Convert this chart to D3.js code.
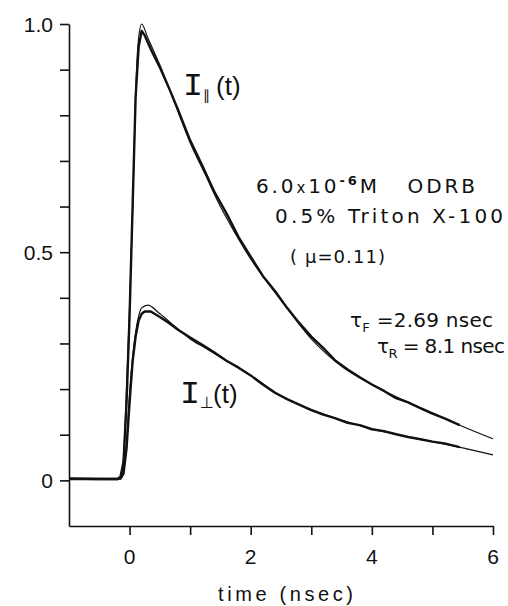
<!DOCTYPE html>
<html>
<head>
<meta charset="utf-8">
<script src="https://cdn.jsdelivr.net/npm/d3@7"></script>
<style>
  body { margin: 0; background: #fff; }
  svg { display: block; }
  text { fill: #111; white-space: pre; }
</style>
</head>
<body>
<div class="graph"></div>
<script>
// values
let yTicks = [0, 0.1, 0.2, 0.3, 0.4, 0.5, 0.6, 0.7, 0.8, 0.9, 1.0];
let yLabels = { 0: "0", 0.5: "0.5", 1: "1.0" };
let xTicks = [0, 1, 2, 3, 4, 5, 6];
let xLabels = { 0: "0", 2: "2", 4: "4", 6: "6" };

// measured traces (thick)
let dataTime = [-1, -0.5, -0.2, -0.15, -0.1, -0.05, 0, 0.05, 0.1, 0.15, 0.2, 0.25, 0.35, 0.5, 0.65, 0.8, 1.0, 1.2, 1.4, 1.6, 1.8, 2.0, 2.2, 2.4, 2.6, 2.8, 3.0, 3.2, 3.4, 3.6, 3.8, 4.0, 4.2, 4.4, 4.6, 4.8, 5.0, 5.2, 5.45];
let parData = [0.004, 0.003, 0.003, 0.008, 0.04, 0.17, 0.36, 0.6, 0.84, 0.95, 0.985, 0.975, 0.945, 0.905, 0.86, 0.812, 0.745, 0.69, 0.632, 0.585, 0.533, 0.49, 0.448, 0.415, 0.378, 0.345, 0.315, 0.29, 0.262, 0.243, 0.226, 0.21, 0.196, 0.18, 0.171, 0.158, 0.146, 0.136, 0.121];
let perData = [0.003, 0.003, 0.003, 0.004, 0.015, 0.07, 0.17, 0.26, 0.315, 0.35, 0.365, 0.37, 0.37, 0.358, 0.345, 0.33, 0.313, 0.297, 0.28, 0.262, 0.247, 0.23, 0.21, 0.192, 0.178, 0.166, 0.154, 0.144, 0.136, 0.126, 0.121, 0.112, 0.108, 0.101, 0.095, 0.09, 0.085, 0.081, 0.073];

// fitted curves (thin)
let fitTime = [-1, -0.2, -0.15, -0.1, -0.05, 0, 0.05, 0.1, 0.15, 0.2, 0.3, 0.5, 0.75, 1, 1.25, 1.5, 1.75, 2, 2.5, 3, 3.5, 4, 4.5, 5, 5.5, 6];
let parFit = [0.003, 0.003, 0.006, 0.05, 0.2, 0.38, 0.59, 0.85, 0.97, 1.0, 0.97, 0.91, 0.825, 0.74, 0.67, 0.6, 0.54, 0.485, 0.395, 0.31, 0.25, 0.21, 0.177, 0.148, 0.118, 0.091];
let perFit = [0.003, 0.003, 0.004, 0.02, 0.08, 0.19, 0.27, 0.325, 0.36, 0.378, 0.384, 0.365, 0.337, 0.31, 0.29, 0.27, 0.25, 0.23, 0.185, 0.155, 0.132, 0.113, 0.098, 0.085, 0.071, 0.056];

let w = 508;
let h = 606;

let svg = d3
  .select(".graph")
  .append("svg")
  .attr("width", w)
  .attr("height", h);

let xScale = d3.scaleLinear().domain([-1, 6]).range([69, 493]);
let yScale = d3.scaleLinear().domain([-0.1, 1.0]).range([526, 24]);

let font = "'DejaVu Sans', 'Liberation Sans', sans-serif";

// axes
let yAxis = d3
  .axisLeft(yScale)
  .tickValues(yTicks)
  .tickSize(9)
  .tickSizeOuter(0)
  .tickFormat((d) => "");
svg
  .append("g")
  .attr("transform", "translate(" + xScale(-1) + ",0)")
  .call(yAxis);

let xAxis = d3
  .axisBottom(xScale)
  .tickValues(xTicks)
  .tickSize(9)
  .tickSizeOuter(0)
  .tickFormat((d) => "");
svg
  .append("g")
  .attr("transform", "translate(0," + yScale(-0.1) + ")")
  .call(xAxis);

svg.selectAll(".domain, .tick line").attr("stroke", "#111").attr("stroke-width", 1.6);

// tick labels
svg
  .selectAll(".ylab")
  .data(yTicks.filter((d) => yLabels[d] !== undefined))
  .enter()
  .append("text")
  .attr("class", "ylab")
  .attr("x", 53)
  .attr("y", (d) => yScale(d))
  .attr("dy", "0.36em")
  .attr("text-anchor", "end")
  .style("font-family", "'Liberation Sans', sans-serif")
  .style("font-size", "21px")
  .text((d) => yLabels[d]);

svg
  .selectAll(".xlab")
  .data(xTicks.filter((d) => xLabels[d] !== undefined))
  .enter()
  .append("text")
  .attr("class", "xlab")
  .attr("x", (d) => xScale(d))
  .attr("y", 564)
  .attr("text-anchor", "middle")
  .style("font-family", "'Liberation Sans', sans-serif")
  .style("font-size", "21px")
  .text((d) => xLabels[d]);

svg
  .append("text")
  .attr("x", 218)
  .attr("y", 601)
  .attr("textLength", 135)
  .style("font-family", "'Liberation Sans', sans-serif")
  .style("font-size", "20px")
  .text("time (nsec)");

// curves
let line = d3
  .line()
  .x((d) => xScale(d[0]))
  .y((d) => yScale(d[1]));
let smooth = d3
  .line()
  .curve(d3.curveMonotoneX)
  .x((d) => xScale(d[0]))
  .y((d) => yScale(d[1]));

let fits = [parFit, perFit];
let datas = [parData, perData];

fits.forEach(function (vals) {
  svg
    .append("path")
    .datum(fitTime.map((t, i) => [t, vals[i]]))
    .attr("d", smooth)
    .attr("fill", "none")
    .attr("stroke", "#111")
    .attr("stroke-width", 1.2);
});

datas.forEach(function (vals) {
  svg
    .append("path")
    .datum(dataTime.map((t, i) => [t, vals[i]]))
    .attr("d", line)
    .attr("fill", "none")
    .attr("stroke", "#111")
    .attr("stroke-width", 2.4)
    .attr("stroke-linejoin", "round");
});

// curve labels
function curveLabel(x, y, sub, subSize) {
  let g = svg.append("g");
  g.append("text")
    .attr("x", x)
    .attr("y", y)
    .attr("textLength", 20)
    .attr("lengthAdjust", "spacingAndGlyphs")
    .style("font-family", "'Liberation Mono', monospace")
    .style("font-size", "31px")
    .text("I");
  g.append("text")
    .attr("x", x + 20)
    .attr("y", y + 5)
    .style("font-family", font)
    .style("font-size", subSize)
    .text(sub);
  g.append("text")
    .attr("x", x + 33)
    .attr("y", y)
    .style("font-family", "'Liberation Sans', sans-serif")
    .style("font-size", "26px")
    .text("(t)");
}
curveLabel(183, 95, "\u2225", "14px");
curveLabel(180, 403, "\u22a5", "16px");

// annotation block
let note = svg
  .append("g")
  .style("font-family", font)
  .style("font-size", "20px");

let l1 = note.append("text").attr("x", 256).attr("y", 193).attr("textLength", 219);
l1.append("tspan").text("6.0");
l1.append("tspan").style("font-size", "15px").text("x");
l1.append("tspan").text("10");
l1.append("tspan").attr("dy", -8).style("font-size", "13px").style("font-weight", "bold").text("-6");
l1.append("tspan").attr("dy", 8).text("M   ODRB");

note.append("text").attr("x", 275).attr("y", 223).attr("textLength", 228).text("0.5% Triton X-100");

note
  .append("text")
  .attr("x", 290)
  .attr("y", 263)
  .attr("textLength", 95)
  .style("font-size", "18px")
  .text("( \u03bc=0.11)");

let l4 = note.append("text").attr("x", 350).attr("y", 327).attr("textLength", 143);
l4.append("tspan").text("\u03c4");
l4.append("tspan").attr("dy", 5).style("font-size", "13px").text("F");
l4.append("tspan").attr("dy", -5).text(" =2.69 nsec");

let l5 = note.append("text").attr("x", 377).attr("y", 353).attr("textLength", 128);
l5.append("tspan").text("\u03c4");
l5.append("tspan").attr("dy", 5).style("font-size", "13px").text("R");
l5.append("tspan").attr("dy", -5).text(" = 8.1 nsec");
</script>
</body>
</html>
